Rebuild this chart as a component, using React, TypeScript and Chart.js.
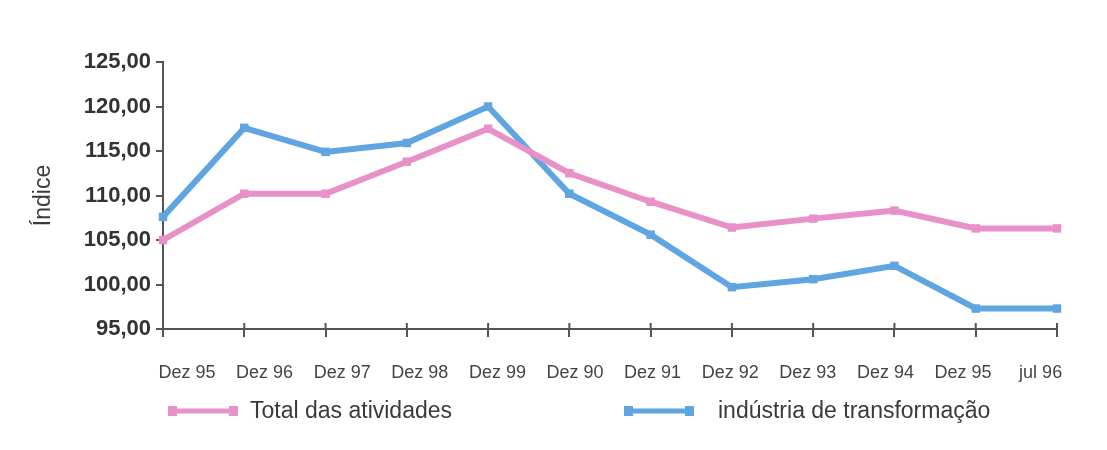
import React, { useEffect, useRef } from 'react';
import { Chart, registerables } from 'chart.js';

Chart.register(...registerables);

const categories = ['Dez 95', 'Dez 96', 'Dez 97', 'Dez 98', 'Dez 99', 'Dez 90', 'Dez 91', 'Dez 92', 'Dez 93', 'Dez 94', 'Dez 95', 'jul 96'];
const totalAtividades = [105.0, 110.2, 110.2, 113.8, 117.5, 112.5, 109.3, 106.4, 107.4, 108.3, 106.3, 106.3];
const industriaTransformacao = [107.6, 117.6, 114.9, 115.9, 120.0, 110.2, 105.6, 99.7, 100.6, 102.1, 97.3, 97.3];
const seriesNames = ['Total das atividades', 'indústria de transformação'];
const yMin = 95;
const yMax = 125;
const yStep = 5;

const FONT = '"Liberation Sans", Arial, sans-serif';
const PINK = 'rgb(232,145,200)';
const BLUE = 'rgb(95,165,225)';
const AXIS = '#555';

const legendPlugin = {
  id: 'customLegend',
  afterDraw(chart: any) {
    const ctx = chart.ctx;
    const slots = [
      { x: 164, textX: 242 },
      { x: 620, textX: 710 },
    ];
    const y = 403;
    chart.data.datasets.forEach((ds: any, i: number) => {
      const s = slots[i];
      if (!s) return;
      ctx.save();
      ctx.strokeStyle = ds.borderColor;
      ctx.lineWidth = 5;
      ctx.beginPath();
      ctx.moveTo(s.x, y);
      ctx.lineTo(s.x + 62, y);
      ctx.stroke();
      ctx.fillStyle = ds.borderColor;
      ctx.fillRect(s.x - 4, y - 5, 9, 10);
      ctx.fillRect(s.x + 57, y - 5, 9, 10);
      ctx.fillStyle = '#3a3a3a';
      ctx.font = `23px ${FONT}`;
      ctx.textBaseline = 'middle';
      ctx.textAlign = 'left';
      ctx.fillText(ds.label, s.textX, y + 1);
      ctx.restore();
    });
  },
};

// small tick marks crossing the x axis (drawn above the axis line too)
const crossTicksPlugin = {
  id: 'crossTicks',
  afterDraw(chart: any) {
    const xs = chart.scales.x;
    const ctx = chart.ctx;
    ctx.save();
    ctx.strokeStyle = AXIS;
    ctx.lineWidth = 2;
    xs.ticks.forEach((_t: any, i: number) => {
      const px = xs.getPixelForTick(i);
      ctx.beginPath();
      ctx.moveTo(px, xs.top - 6);
      ctx.lineTo(px, xs.top);
      ctx.stroke();
    });
    ctx.restore();
  },
};

export default function App() {
  const canvasRef = useRef<HTMLCanvasElement | null>(null);

  useEffect(() => {
    if (!canvasRef.current) return;
    Chart.defaults.font.family = FONT;
    const chart = new Chart(canvasRef.current, {
      type: 'line',
      data: {
        labels: categories,
        datasets: [
          {
            label: seriesNames[0],
            data: totalAtividades,
            borderColor: PINK,
            backgroundColor: PINK,
            borderWidth: 6,
            pointStyle: 'rect',
            pointRadius: 6,
            pointBorderWidth: 0,
            tension: 0,
            xAxisID: 'x',
            yAxisID: 'y',
          },
          {
            label: seriesNames[1],
            data: industriaTransformacao,
            borderColor: BLUE,
            backgroundColor: BLUE,
            borderWidth: 6,
            pointStyle: 'rect',
            pointRadius: 6,
            pointBorderWidth: 0,
            tension: 0,
            xAxisID: 'x',
            yAxisID: 'y',
          },
        ],
      },
      options: {
        animation: false,
        responsive: true,
        maintainAspectRatio: false,
        layout: { padding: { top: 54, right: 42, bottom: 55, left: 0 } },
        plugins: {
          legend: { display: false },
          tooltip: { enabled: false },
        },
        scales: {
          x: {
            type: 'category',
            position: 'bottom',
            offset: false,
            ticks: { display: false },
            grid: {
              drawOnChartArea: false,
              drawTicks: true,
              tickLength: 8,
              color: AXIS,
              lineWidth: 2,
            },
            border: { display: true, color: AXIS, width: 2 },
            afterFit(scale: any) {
              scale.height = 8;
            },
          },
          x2: {
            type: 'linear',
            position: 'bottom',
            min: -0.309,
            max: 11.211,
            grid: { display: false, drawTicks: false },
            border: { display: false },
            ticks: {
              stepSize: 1,
              includeBounds: false,
              autoSkip: false,
              maxRotation: 0,
              minRotation: 0,
              padding: 25,
              color: '#444',
              font: { size: 18, family: FONT },
              callback: (v: any) => (Number.isInteger(v) && categories[v] !== undefined ? categories[v] : ''),
            },
            afterFit(scale: any) {
              scale.height = 50;
            },
          },
          y: {
            type: 'linear',
            min: yMin,
            max: yMax,
            ticks: {
              stepSize: yStep,
              padding: 5,
              color: '#333',
              font: { size: 22, weight: 'bold', family: FONT },
              callback: (v: any) => Number(v).toFixed(2).replace('.', ','),
            },
            grid: {
              drawOnChartArea: false,
              drawTicks: true,
              tickLength: 7,
              color: AXIS,
              lineWidth: 2,
            },
            border: { display: true, color: AXIS, width: 2 },
            title: {
              display: true,
              text: 'Índice',
              color: '#3a3a3a',
              font: { size: 23, family: FONT },
              padding: { top: 22, bottom: 0 },
            },
            afterFit(scale: any) {
              scale.width = 155;
            },
          },
        },
      },
      plugins: [legendPlugin, crossTicksPlugin],
    });
    return () => chart.destroy();
  }, []);

  return (
    <div style={{ position: 'relative', width: 1091, height: 434 }}>
      <canvas ref={canvasRef} />
    </div>
  );
}
